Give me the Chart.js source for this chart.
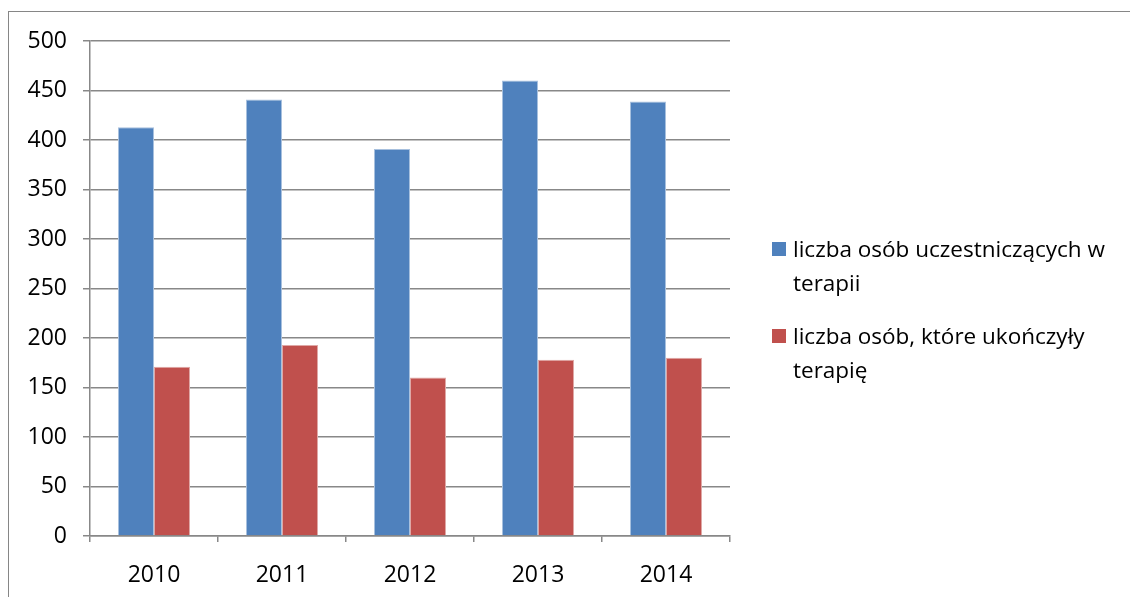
<!DOCTYPE html>
<html>
<head>
<meta charset="utf-8">
<script src="https://cdn.jsdelivr.net/npm/chart.js@4"></script>
<style>
  html, body { margin: 0; padding: 0; background: #fff; }
  body { width: 1130px; height: 597px; position: relative; overflow: hidden; font-family: "Open Sans", sans-serif; }
  #frame { position: absolute; left: 8px; top: 11px; width: 1200px; height: 700px; border: 1px solid #868686; box-sizing: border-box; }
  #wrap { position: absolute; left: 0; top: 0; width: 1130px; height: 597px; }
  #legend { position: absolute; left: 772px; top: 232px; width: 352px; font-size: 22.5px; line-height: 34px; color: #000; }
  #legend .item { position: relative; padding-left: 21px; margin-bottom: 19px; }
  #legend .box { position: absolute; left: 0; top: 10px; width: 14px; height: 14px; }
</style>
</head>
<body>
<div id="frame"></div>
<div id="wrap"><canvas id="chart" width="1130" height="597"></canvas></div>
<div id="legend"></div>
<script>
const years = ['2010', '2011', '2012', '2013', '2014'];
const uczestniczacy = [413, 441, 391, 460, 439];
const ukonczyli = [171, 193, 160, 178, 180];
const seriesNames = ['liczba osób uczestniczących w terapii', 'liczba osób, które ukończyły terapię'];
const seriesColors = ['#4F81BD', '#C0504D'];
const edgeColors = ['#A7C0DE', '#DFA8A6'];

const axisGray = '#888888';
const font = { family: '"Open Sans", sans-serif', size: 23 };

const ctx = document.getElementById('chart').getContext('2d');
const chart = new Chart(ctx, {
  type: 'bar',
  data: {
    labels: years,
    datasets: [
      { label: seriesNames[0], data: uczestniczacy, backgroundColor: seriesColors[0], borderColor: edgeColors[0] },
      { label: seriesNames[1], data: ukonczyli, backgroundColor: seriesColors[1], borderColor: edgeColors[1] }
    ]
  },
  options: {
    responsive: false,
    animation: false,
    layout: { padding: { top: 41, right: 400, bottom: 0, left: 0 } },
    datasets: { bar: { categoryPercentage: 0.5625, barPercentage: 1.0, borderWidth: { top: 1, left: 1, right: 1, bottom: 0 } } },
    scales: {
      x: {
        grid: { drawOnChartArea: false, drawTicks: true, tickLength: 6, color: axisGray, lineWidth: 1.5, offset: true },
        border: { color: axisGray, width: 1.5 },
        ticks: { color: '#000', font: font, padding: 20, maxRotation: 0 },
        afterFit: s => { s.height = 61; }
      },
      y: {
        min: 0,
        max: 500,
        ticks: { stepSize: 50, color: '#000', font: font, padding: 16 },
        grid: { color: axisGray, lineWidth: 1.5, tickLength: 7 },
        border: { color: axisGray, width: 1.5 },
        afterFit: s => { s.width = 90; }
      }
    },
    plugins: {
      legend: { display: false },
      tooltip: { enabled: false }
    }
  }
});

const legend = document.getElementById('legend');
chart.data.datasets.forEach(ds => {
  const item = document.createElement('div');
  item.className = 'item';
  const box = document.createElement('span');
  box.className = 'box';
  box.style.background = ds.backgroundColor;
  item.appendChild(box);
  item.appendChild(document.createTextNode(ds.label));
  legend.appendChild(item);
});
</script>
</body>
</html>
